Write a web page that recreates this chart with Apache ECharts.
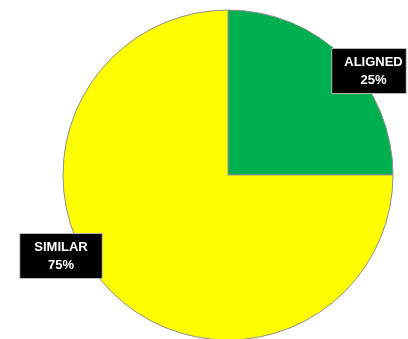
<!DOCTYPE html>
<html>
<head>
<meta charset="utf-8">
<script src="https://cdn.jsdelivr.net/npm/echarts@6/dist/echarts.min.js"></script>
<style>
  html, body { margin: 0; padding: 0; background: #fff; }
  #chart { width: 408px; height: 339px; }
</style>
</head>
<body>
<div id="chart"></div>
<script>
// Share of items by match type
const categories = ['ALIGNED', 'SIMILAR'];
const values = [25, 75];
const colors = ['#00B050', '#FFFF00'];

// Where each callout box sits (centre of box) and its padding [top, right, bottom, left]
const calloutCenters = [[369, 71], [61, 256]];
const calloutPadding = [[4, 3, 4, 12], [4, 14, 4, 14]];

const chart = echarts.init(document.getElementById('chart'), null, { renderer: 'canvas' });

chart.setOption({
  animation: false,
  backgroundColor: '#ffffff',
  series: [{
    type: 'pie',
    center: [228, 175],
    radius: [0, 165],
    startAngle: 90,
    clockwise: true,
    avoidLabelOverlap: false,
    itemStyle: { borderColor: '#8f8f8f', borderWidth: 1 },
    emphasis: { disabled: true },
    labelLine: { show: false },
    label: {
      show: true,
      position: 'inside',
      formatter: '{b}\n{d}%',
      color: '#ffffff',
      fontFamily: 'Liberation Sans, Arial, sans-serif',
      fontWeight: 'bold',
      fontSize: 13,
      lineHeight: 18,
      align: 'center',
      backgroundColor: '#000000',
      borderColor: '#b5b5b5',
      borderWidth: 1
    },
    labelLayout: function (params) {
      const c = calloutCenters[params.dataIndex];
      return { x: c[0], y: c[1], align: 'center', verticalAlign: 'middle' };
    },
    data: categories.map(function (name, i) {
      return {
        name: name,
        value: values[i],
        itemStyle: { color: colors[i] },
        label: { padding: calloutPadding[i] }
      };
    })
  }]
});
</script>
</body>
</html>
